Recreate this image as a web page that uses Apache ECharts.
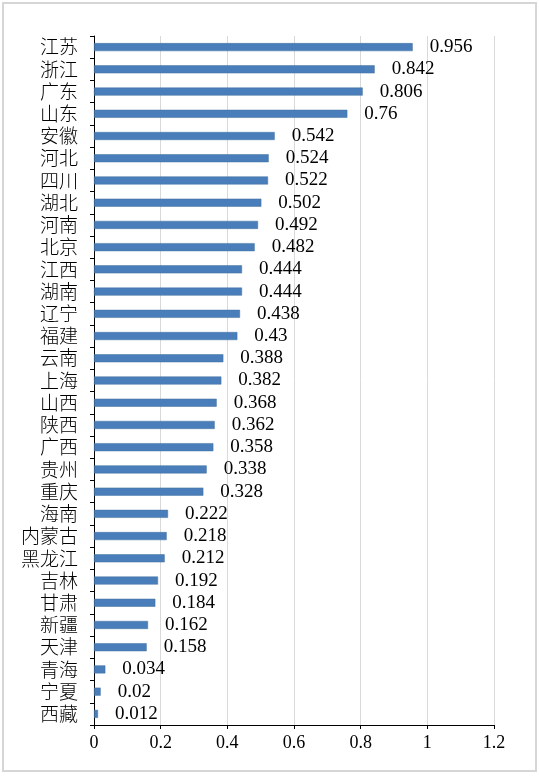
<!DOCTYPE html>
<html>
<head>
    <meta charset="UTF-8">
    <title>各省数据</title>
    <script src="https://cdn.jsdelivr.net/npm/echarts@6/dist/echarts.min.js"></script>
    <style>
        html, body {margin: 0; padding: 0; background: #fff;}
        #main {width: 539px; height: 778px;}
    </style>
</head>
<body>
<div id="main"></div>
<script>
    // 省份（从上到下）
    var provinces = ['江苏', '浙江', '广东', '山东', '安徽', '河北', '四川', '湖北', '河南', '北京',
        '江西', '湖南', '辽宁', '福建', '云南', '上海', '山西', '陕西', '广西', '贵州',
        '重庆', '海南', '内蒙古', '黑龙江', '吉林', '甘肃', '新疆', '天津', '青海', '宁夏', '西藏'];
    var values = [0.956, 0.842, 0.806, 0.76, 0.542, 0.524, 0.522, 0.502, 0.492, 0.482,
        0.444, 0.444, 0.438, 0.43, 0.388, 0.382, 0.368, 0.362, 0.358, 0.338,
        0.328, 0.222, 0.218, 0.212, 0.192, 0.184, 0.162, 0.158, 0.034, 0.02, 0.012];
    var xTicks = [0, 0.2, 0.4, 0.6, 0.8, 1, 1.2];

    var serif = '"Liberation Serif", "DejaVu Serif", serif';
    var cjk = '"Noto Sans CJK SC", sans-serif';

    var myChart = echarts.init(document.getElementById('main'));
    myChart.setOption({
        animation: false,
        backgroundColor: '#fff',
        graphic: [{
            type: 'rect',
            shape: {x: 3, y: 3, width: 533, height: 768},
            style: {fill: 'none', stroke: '#d6d6d6', lineWidth: 2},
            silent: true
        }],
        grid: {left: 94, right: 45, top: 36, bottom: 53},
        xAxis: {
            type: 'value',
            min: xTicks[0],
            max: xTicks[xTicks.length - 1],
            interval: 0.2,
            axisLine: {show: true, lineStyle: {color: '#000', width: 1}},
            axisTick: {show: true, length: 4, lineStyle: {color: '#000'}},
            axisLabel: {
                color: '#000', fontFamily: serif, fontSize: 18, margin: 9,
                formatter: function (v) { return String(Math.round(v * 10) / 10); }
            },
            splitLine: {show: true, lineStyle: {color: '#d9d9d9', width: 1}}
        },
        yAxis: {
            type: 'category',
            inverse: true,
            data: provinces,
            axisLine: {show: true, lineStyle: {color: '#000', width: 1}},
            axisTick: {show: true, length: 4, lineStyle: {color: '#000'}},
            axisLabel: {
                interval: 0, color: '#000', fontFamily: cjk, fontSize: 19,
                fontWeight: 300, margin: 16, lineHeight: 20
            }
        },
        series: [{
            type: 'bar',
            data: values,
            barWidth: 8,
            itemStyle: {color: '#4a7ebb', borderColor: '#41719c', borderWidth: 0.5},
            label: {
                show: true,
                position: 'right',
                distance: 17,
                color: '#000',
                fontFamily: serif,
                fontSize: 19
            }
        }]
    });
</script>
</body>
</html>
